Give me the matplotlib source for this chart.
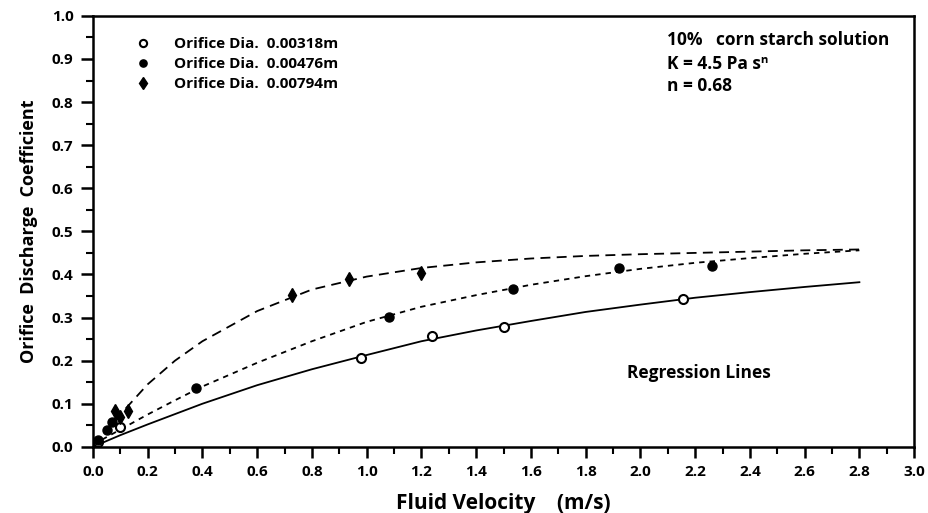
import numpy as np
import matplotlib
matplotlib.use('Agg')
from matplotlib import pyplot as plt
from matplotlib.ticker import MultipleLocator

# measured points, one array pair per orifice diameter
v_318 = [0.02, 0.10, 0.98, 1.24, 1.50, 2.155]
c_318 = [0.012, 0.046, 0.206, 0.258, 0.277, 0.343]

v_476 = [0.02, 0.05, 0.07, 0.376, 1.08, 1.536, 1.923, 2.262]
c_476 = [0.015, 0.038, 0.058, 0.136, 0.301, 0.366, 0.415, 0.420]

v_794 = [0.08, 0.099, 0.128, 0.727, 0.935, 1.20]
c_794 = [0.082, 0.070, 0.082, 0.353, 0.390, 0.403]

# regression lines
fit_v = [0.0, 0.1, 0.2, 0.3, 0.4, 0.6, 0.8, 1.0, 1.2, 1.4, 1.6, 1.8, 2.0, 2.2, 2.4, 2.6, 2.8]
fit_318 = [0.0, 0.027, 0.052, 0.076, 0.100, 0.143, 0.180, 0.213, 0.245, 0.270,
           0.292, 0.313, 0.330, 0.346, 0.359, 0.371, 0.382]
fit_476 = [0.005, 0.040, 0.075, 0.108, 0.140, 0.195, 0.245, 0.290, 0.325, 0.352,
           0.376, 0.396, 0.413, 0.427, 0.438, 0.448, 0.456]
fit_794 = [0.005, 0.075, 0.145, 0.200, 0.245, 0.315, 0.365, 0.395, 0.415, 0.428,
           0.437, 0.443, 0.447, 0.450, 0.453, 0.456, 0.458]

labels = ['Orifice Dia.  0.00318m', 'Orifice Dia.  0.00476m', 'Orifice Dia.  0.00794m']

FONT = ['Open Sans', 'DejaVu Sans']


def main():
    plt.rcParams['font.family'] = FONT
    plt.rcParams['font.weight'] = 'bold'

    fig = plt.figure(figsize=(9.29, 5.13), dpi=100)
    ax = fig.add_axes([0.100, 0.129, 0.884, 0.840])

    # regression curves
    ax.plot(fit_v, fit_318, color='black', lw=1.3, ls='-')
    ax.plot(fit_v, fit_476, color='black', lw=1.3, ls=(0, (3, 2.8)))
    ax.plot(fit_v, fit_794, color='black', lw=1.3, ls=(0, (5.5, 3.5)))

    # data points
    ax.plot(v_318, c_318, 'o', ms=6.5, mfc='white', mec='black', mew=1.5,
            label=labels[0])
    ax.plot(v_476, c_476, 'o', ms=6.5, mfc='black', mec='black',
            label=labels[1])
    ax.plot(v_794, c_794, 'd', ms=7.5, mfc='black', mec='black',
            label=labels[2])

    ax.set_xlim(0, 3.0)
    ax.set_ylim(0, 1.0)
    ax.xaxis.set_major_locator(MultipleLocator(0.2))
    ax.xaxis.set_minor_locator(MultipleLocator(0.1))
    ax.yaxis.set_major_locator(MultipleLocator(0.1))
    ax.yaxis.set_minor_locator(MultipleLocator(0.05))
    ax.xaxis.set_major_formatter(plt.FormatStrFormatter('%.1f'))
    ax.yaxis.set_major_formatter(plt.FormatStrFormatter('%.1f'))
    ax.tick_params(axis='x', which='major', direction='out', length=8, width=1.8,
                   labelsize=11, pad=5)
    ax.tick_params(axis='y', which='major', direction='out', length=9, width=1.8,
                   labelsize=11, pad=5)
    ax.tick_params(which='minor', direction='out', length=5, width=1.5)
    for s in ax.spines.values():
        s.set_linewidth(1.8)

    ax.set_xlabel('Fluid Velocity    (m/s)', fontsize=15, fontweight='bold',
                  labelpad=10)
    ax.set_ylabel('Orifice  Discharge  Coefficient', fontsize=13,
                  fontweight='bold', labelpad=10)

    leg = ax.legend(loc='upper left', bbox_to_anchor=(0.052, 0.951), frameon=False,
                    fontsize=11, handletextpad=1.5, labelspacing=0.4,
                    handlelength=1.0, borderaxespad=0, borderpad=0,
                    markerscale=0.8)
    for t in leg.get_texts():
        t.set_fontweight('bold')

    ax.text(0.699, 0.933, '10%   corn starch solution', transform=ax.transAxes,
            fontsize=12.5, fontweight='bold', va='baseline', ha='left')
    ax.text(0.699, 0.877, 'K = 4.5 Pa s\u207f', transform=ax.transAxes,
            fontsize=12.5, fontweight='bold', va='baseline', ha='left')
    ax.text(0.699, 0.826, 'n = 0.68', transform=ax.transAxes,
            fontsize=12.5, fontweight='bold', va='baseline', ha='left')
    ax.text(0.650, 0.160, 'Regression Lines', transform=ax.transAxes,
            fontsize=12.5, fontweight='bold', va='baseline', ha='left')

    fig.savefig('out.png', dpi=100)


if __name__ == '__main__':
    main()
